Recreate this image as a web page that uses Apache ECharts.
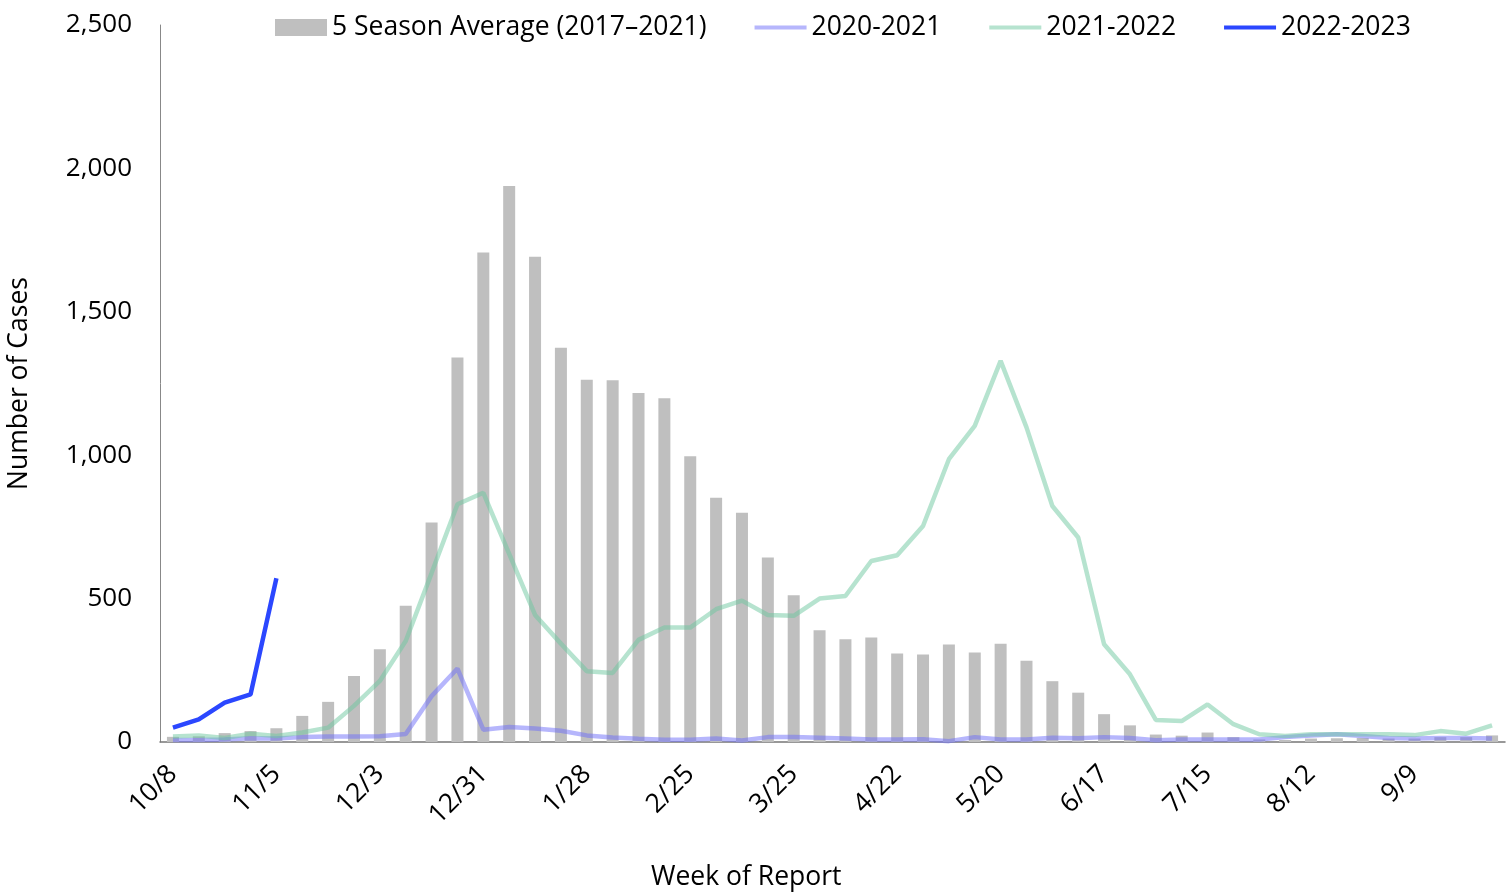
<!DOCTYPE html>
<html>
<head>
<meta charset="utf-8">
<script src="https://cdn.jsdelivr.net/npm/echarts@6/dist/echarts.min.js"></script>
<style>
html,body{margin:0;padding:0;background:#fff;}
#chart{width:1511px;height:895px;}
</style>
</head>
<body>
<div id="chart"></div>
<script>
const weeks = ['10/8','10/15','10/22','10/29','11/5','11/12','11/19','11/26','12/3','12/10','12/17','12/24','12/31','1/7','1/14','1/21','1/28','2/4','2/11','2/18','2/25','3/4','3/11','3/18','3/25','4/1','4/8','4/15','4/22','4/29','5/6','5/13','5/20','5/27','6/3','6/10','6/17','6/24','7/1','7/8','7/15','7/22','7/29','8/5','8/12','8/19','8/26','9/2','9/9','9/16','9/23','9/30'];
const fiveSeasonAvg = [18,20,31,38,48,91,140,230,323,475,765,1341,1707,1939,1692,1375,1263,1261,1217,1199,996,852,799,643,512,390,358,364,309,305,340,312,343,283,212,172,97,58,26,22,33,17,9,7,12,13,14,12,12,17,17,23];
const season2020 = [7,7,9,13,12,17,19,19,20,28,160,256,43,52,47,39,23,16,11,8,8,12,5,17,17,15,12,9,9,10,3,17,9,9,15,13,17,14,6,9,9,9,9,17,23,27,21,14,12,14,14,12];
const season2021 = [19,23,14,29,21,33,50,126,213,352,589,829,869,656,443,343,247,241,356,399,399,463,493,443,440,500,509,631,651,753,986,1102,1329,1097,823,713,341,236,77,73,131,62,27,21,27,27,27,27,24,38,29,58];
const season2022 = [50,79,137,166,571];
const yTicks = ['0','500','1,000','1,500','2,000','2,500'];

const FONT = '"Open Sans", "Noto Sans", sans-serif';
const LINE_ICON = 'path://M0,0 L52,0 L52,4 L0,4 Z';
const chart = echarts.init(document.getElementById('chart'));
chart.setOption({
  animation: false,
  backgroundColor: '#fff',
  textStyle: { fontFamily: FONT, color: '#000' },
  grid: { left: 160, right: 6, top: 25, bottom: 153, containLabel: false, outerBoundsMode: 'none' },
  legend: {
    left: 270, top: 9,
    itemWidth: 52, itemHeight: 17, itemGap: 48,
    textStyle: { fontFamily: FONT, fontSize: 26.5, color: '#000' },
    data: [
      { name: '5 Season Average (2017–2021)', icon: 'rect' },
      { name: '2020-2021', icon: LINE_ICON },
      { name: '2021-2022', icon: LINE_ICON },
      { name: '2022-2023', icon: LINE_ICON }
    ]
  },
  xAxis: {
    type: 'category',
    data: weeks,
    axisLine: { show: true, lineStyle: { color: '#777', width: 1.5 } },
    axisTick: { show: false },
    axisLabel: { interval: 3, rotate: 45, margin: 28, fontSize: 26.5, color: '#000', fontFamily: FONT }
  },
  yAxis: {
    type: 'value',
    min: 0, max: 2500, interval: 500,
    name: 'Number of Cases',
    nameLocation: 'middle',
    nameGap: 127,
    nameTextStyle: { fontSize: 26.5, color: '#000', fontFamily: FONT },
    axisLine: { show: true, lineStyle: { color: '#888', width: 1 } },
    axisTick: { show: false },
    splitLine: { show: false },
    axisLabel: {
      margin: 28, fontSize: 26, color: '#000', fontFamily: FONT,
      formatter: function (v) { return yTicks[Math.round(v / 500)]; }
    }
  },
  graphic: [{
    type: 'text', left: 651, top: 864,
    style: { text: 'Week of Report', font: '26.5px ' + FONT, fill: '#000' }
  }],
  series: [
    {
      name: '5 Season Average (2017–2021)', type: 'bar', data: fiveSeasonAvg,
      barWidth: 12, itemStyle: { color: '#bfbfbf' }
    },
    {
      name: '2020-2021', type: 'line', data: season2020, symbol: 'none',
      lineStyle: { width: 4.5, color: 'rgba(110,110,250,0.5)' },
      itemStyle: { color: 'rgba(110,110,250,0.5)' }
    },
    {
      name: '2021-2022', type: 'line', data: season2021, symbol: 'none',
      lineStyle: { width: 4.5, color: 'rgba(110,200,160,0.5)' },
      itemStyle: { color: 'rgba(110,200,160,0.5)' }
    },
    {
      name: '2022-2023', type: 'line', data: season2022, symbol: 'none',
      lineStyle: { width: 4.5, color: '#2b47ff' },
      itemStyle: { color: '#2b47ff' }
    }
  ]
});
</script>
</body>
</html>
